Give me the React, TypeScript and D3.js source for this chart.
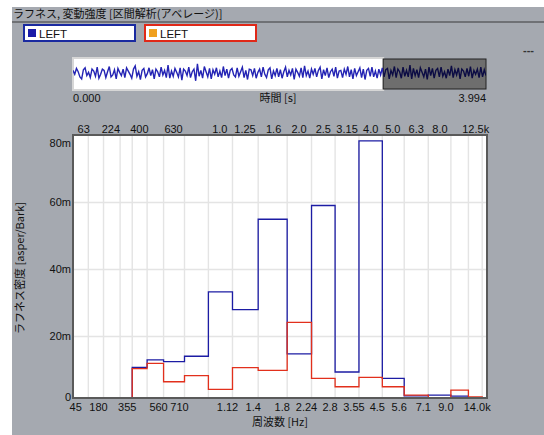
import React, { useEffect, useRef } from 'react'
import * as d3 from 'd3'

// band edges of the analysis (Hz) and the roughness density per band (m asper/Bark)
const bandEdges = [355, 450, 560, 710, 900, 1120, 1400, 1800, 2240, 2800, 3550, 4500, 5600, 7100, 9000, 11200, 14000]
const blueLeft = [10.8, 13.0, 12.5, 14.1, 33.3, 28.0, 55.0, 14.8, 59.1, 9.4, 78.4, 7.5, 2.3, 2.5, 2.2, 1.5]
const redLeft = [10.4, 12.0, 6.5, 8.3, 4.2, 10.7, 9.9, 24.2, 7.5, 5.0, 7.8, 5.0, 2.5, 1.2, 4.0, 2.0]

const gridFreqs = [90, 180, 280, 355, 450, 560, 710, 900, 1120, 1400, 1800, 2240, 2800, 3550, 4500, 5600, 7100, 9000, 11200, 14000]
const bottomFreqs = [45, 180, 355, 560, 710, 1120, 1400, 1800, 2240, 2800, 3550, 4500, 5600, 7100, 9000, 14000]
const bottomLabels = ['45', '180', '355', '560', '710', '1.12', '1.4', '1.8', '2.24', '2.8', '3.55', '4.5', '5.6', '7.1', '9.0', '14.0k']
const topFreqs = [63, 224, 400, 630, 1000, 1250, 1600, 2000, 2500, 3150, 4000, 5000, 6300, 8000, 12500]
const topLabels = ['63', '224', '400', '630', '1.0', '1.25', '1.6', '2.0', '2.5', '3.15', '4.0', '5.0', '6.3', '8.0', '12.5k']
const yTicks = [0, 20, 40, 60, 80]
const yTickLabels = ['0', '20m', '40m', '60m', '80m']

const legendNames = ['LEFT', 'LEFT']
const timeDomain = [0, 3.994]
const selection = [0, 3.0]

// overview waveform (normalised amplitude)
const wave = [
  0.2, -0.1, 0.35, 0.1, -0.3, -0.45, 0.25, 0.4, -0.2, 0.05, -0.35, 0.3, 0.15, -0.25, 0.45, -0.4, -0.1, 0.3, 0.2, -0.35, 0.1, 0.5, -0.3, -0.15, 0.25, -0.45, 0.35, 0.05, -0.2, 0.3,
  -0.35, 0.4, 0.15, -0.1, -0.4, 0.3, 0.55, -0.25, 0.1, -0.5, 0.2, 0.35, -0.3, -0.05, 0.4, -0.2, 0.25, -0.45, 0.3, 0.1, -0.3, 0.45, -0.15, 0.2, -0.35, 0.6, -0.4, 0.15, -0.25, 0.35,
  0.05, -0.3, 0.4, -0.55, 0.3, 0.15, -0.2, 0.45, -0.35, 0.1, 0.3, -0.6, 0.7, -0.25, 0.2, -0.4, 0.5, 0.1, -0.3, 0.35, -0.45, 0.25, -0.1, 0.4, -0.3, 0.15, -0.35, 0.5, -0.2, 0.3,
  -0.4, 0.2, 0.35, -0.15, -0.3, 0.4, -0.25, 0.1, 0.45, -0.35, 0.2, -0.5, 0.3, 0.25, -0.2, 0.35, -0.4, 0.05, 0.3, -0.3, 0.45, -0.1, -0.35, 0.25, 0.4, -0.45, 0.15, -0.2, 0.35, -0.3,
  0.25, -0.4, 0.1, 0.45, -0.3, 0.2, -0.15, 0.35, -0.5, 0.3, 0.05, -0.25, 0.4, -0.35, 0.55, -0.2, 0.15, -0.4, 0.3, -0.1, 0.35, -0.3, 0.2, 0.45, -0.45, 0.25, -0.2, 0.4, -0.35, 0.1,
  0.3, -0.25, 0.45, -0.4, 0.15, 0.2, -0.35, 0.3, -0.1, 0.5, -0.3, 0.25, -0.45, 0.35, -0.2, 0.1, 0.4, -0.35, 0.3, -0.5, 0.2, 0.35, -0.25, 0.45, -0.3, 0.15, -0.4, 0.3, -0.15, 0.4,
  -0.3, 0.25, 0.35, -0.45, 0.2, -0.15, 0.5, -0.35, 0.3, 0.1, -0.4, 0.45, -0.25, 0.2, -0.3, 0.6, -0.45, 0.35, -0.2, 0.25, -0.35, 0.4, 0.05, -0.3, 0.3, -0.5, 0.45, -0.2, 0.35, -0.4,
  0.2, 0.35, -0.3, 0.45, -0.25, 0.1, -0.4, 0.3, -0.2, 0.55, -0.35, 0.25, -0.15, 0.4, -0.45, 0.3, 0.15, -0.3, 0.35, -0.25, 0.5, -0.4, 0.2, -0.1, 0.3, -0.35, 0.45, -0.3, 0.25, -0.2,
]

const BLUE = '#1c1ca4'
const RED = '#e2301c'
const PANEL = '#a5a9b0'
const NUM_FONT = '"Liberation Sans", Arial, sans-serif'
const JP_FONT = '"Noto Sans CJK JP", "Liberation Sans", sans-serif'

// Zwicker critical band rate
const bark = (f: number) => 13 * Math.atan(0.00076 * f) + 3.5 * Math.atan((f / 7500) * (f / 7500))

const App = () => {
  const ref = useRef<SVGSVGElement>(null)

  useEffect(() => {
    const svg = d3.select(ref.current)
    svg.selectAll('*').remove()

    const left = 73, right = 487, top = 135, bottom = 398

    svg.append('rect').attr('width', 544).attr('height', 435).attr('fill', '#fff')
    svg.append('rect').attr('x', 12).attr('y', 7).attr('width', 532).attr('height', 428).attr('fill', PANEL)

    // title bar
    svg.append('text').attr('x', 13).attr('y', 18)
      .attr('font-family', JP_FONT).attr('font-size', 11).attr('fill', '#111')
      .text('ラフネス, 変動強度 [区間解析(アベレージ)]')
    svg.append('line').attr('x1', 12).attr('x2', 544).attr('y1', 22).attr('y2', 22)
      .attr('stroke', '#3a3a3a').attr('stroke-width', 1.2)

    // legend boxes
    const legendColors = [{ border: '#1a2aa0', swatch: '#1a1aa8' }, { border: '#e02818', swatch: '#f0a020' }]
    legendNames.forEach((name, i) => {
      const g = svg.append('g').attr('transform', `translate(${24 + i * 121},25)`)
      g.append('rect').attr('width', 111).attr('height', 16).attr('fill', '#fff')
        .attr('stroke', legendColors[i].border).attr('stroke-width', 2)
      g.append('rect').attr('x', 4).attr('y', 4).attr('width', 8).attr('height', 8).attr('fill', legendColors[i].swatch)
      g.append('text').attr('x', 15).attr('y', 12.5)
        .attr('font-family', NUM_FONT).attr('font-size', 11.5).attr('fill', '#111').text(name)
    })
    svg.append('text').attr('x', 523).attr('y', 54)
      .attr('font-family', NUM_FONT).attr('font-size', 11).attr('font-weight', 'bold').attr('fill', '#333').text('---')

    // time overview strip
    const t = d3.scaleLinear().domain(timeDomain).range([left, 486])
    const wy = d3.scaleLinear().domain([-1, 1]).range([86, 60])
    const defs = svg.append('defs')
    defs.append('clipPath').attr('id', 'sel').append('rect')
      .attr('x', t(selection[0])).attr('y', 58).attr('width', t(selection[1]) - t(selection[0])).attr('height', 32)
    defs.append('clipPath').attr('id', 'rest').append('rect')
      .attr('x', t(selection[1])).attr('y', 58).attr('width', t(timeDomain[1]) - t(selection[1])).attr('height', 32)
    svg.append('rect').attr('x', t(selection[0])).attr('y', 58)
      .attr('width', t(selection[1]) - t(selection[0])).attr('height', 32)
      .attr('fill', '#fff').attr('stroke', '#d6d6d6').attr('stroke-width', 2)
    svg.append('rect').attr('x', t(selection[1])).attr('y', 59)
      .attr('width', t(timeDomain[1]) - t(selection[1])).attr('height', 30)
      .attr('fill', '#6e6e6e').attr('stroke', '#222').attr('stroke-width', 1)
    const waveLine = d3.line<number>()
      .x((d, i) => t((i / (wave.length - 1)) * timeDomain[1]))
      .y(d => wy(d))
    svg.append('path').attr('d', waveLine(wave)).attr('clip-path', 'url(#sel)')
      .attr('fill', 'none').attr('stroke', '#2424b4').attr('stroke-width', 1.4)
    svg.append('path').attr('d', waveLine(wave)).attr('clip-path', 'url(#rest)')
      .attr('fill', 'none').attr('stroke', '#0c0c44').attr('stroke-width', 1.4)
    svg.append('text').attr('x', t(timeDomain[0])).attr('y', 102)
      .attr('font-family', NUM_FONT).attr('font-size', 11).attr('fill', '#111').text(timeDomain[0].toFixed(3))
    svg.append('text').attr('x', t(timeDomain[1])).attr('y', 102).attr('text-anchor', 'end')
      .attr('font-family', NUM_FONT).attr('font-size', 11).attr('fill', '#111').text(timeDomain[1].toFixed(3))
    svg.append('text').attr('x', 278).attr('y', 102).attr('text-anchor', 'middle')
      .attr('font-family', JP_FONT).attr('font-size', 11).attr('fill', '#111').text('時間 [s]')

    // main plot
    const x = d3.scaleLinear().domain([0, 24]).range([left, right])
    const y = d3.scaleLinear().domain([0, 80]).range([403.5, 135.5])
    const fx = (f: number) => x(bark(f))

    defs.append('clipPath').attr('id', 'plot').append('rect')
      .attr('x', left).attr('y', top).attr('width', right - left).attr('height', bottom - top)
    svg.append('rect').attr('x', left).attr('y', top).attr('width', right - left).attr('height', bottom - top)
      .attr('fill', '#fff')

    const grid = svg.append('g').attr('clip-path', 'url(#plot)')
    grid.selectAll('.vg').data(gridFreqs).enter().append('line')
      .attr('x1', d => fx(d)).attr('x2', d => fx(d)).attr('y1', top).attr('y2', bottom)
      .attr('stroke', '#e4e4e4').attr('stroke-width', 1.4)
    grid.selectAll('.hg').data(yTicks.slice(1, -1)).enter().append('line')
      .attr('x1', left).attr('x2', right).attr('y1', d => y(d)).attr('y2', d => y(d))
      .attr('stroke', '#e4e4e4').attr('stroke-width', 1.4)

    const stepLine = d3.line<[number, number]>()
      .x(d => fx(d[0])).y(d => y(d[1])).curve(d3.curveStepAfter)
    const stepPoints = (vals: number[]): [number, number][] => {
      const pts: [number, number][] = [[bandEdges[0], 0]]
      vals.forEach((v, i) => pts.push([bandEdges[i], v]))
      pts.push([bandEdges[bandEdges.length - 1], vals[vals.length - 1]])
      pts.push([bandEdges[bandEdges.length - 1], 0])
      return pts
    }
    const series = svg.append('g').attr('clip-path', 'url(#plot)')
    series.append('path').attr('d', stepLine(stepPoints(blueLeft)))
      .attr('fill', 'none').attr('stroke', BLUE).attr('stroke-width', 1.3)
    series.append('path').attr('d', stepLine(stepPoints(redLeft)))
      .attr('fill', 'none').attr('stroke', RED).attr('stroke-width', 1.3)

    svg.append('rect').attr('x', left).attr('y', top).attr('width', right - left).attr('height', bottom - top)
      .attr('fill', 'none').attr('stroke', '#5a5a5a').attr('stroke-width', 2)

    // y ticks (labels kept inside the frame)
    svg.selectAll('.yt').data(yTicks).enter().append('text')
      .attr('x', 71).attr('y', d => Math.min(Math.max(y(d), top + 8), bottom - 1))
      .attr('dy', '0.35em').attr('text-anchor', 'end')
      .attr('font-family', NUM_FONT).attr('font-size', 11).attr('fill', '#111')
      .text((d, i) => yTickLabels[i])

    // x tick labels
    svg.selectAll('.bt').data(bottomFreqs).enter().append('text')
      .attr('x', d => fx(d) - 5).attr('y', 411).attr('text-anchor', 'middle')
      .attr('font-family', NUM_FONT).attr('font-size', 11).attr('fill', '#111')
      .text((d, i) => bottomLabels[i])
    svg.selectAll('.tt').data(topFreqs).enter().append('text')
      .attr('x', d => fx(d)).attr('y', 133).attr('text-anchor', 'middle')
      .attr('font-family', NUM_FONT).attr('font-size', 11).attr('fill', '#111')
      .text((d, i) => topLabels[i])

    // axis titles
    svg.append('text').attr('x', 280).attr('y', 426).attr('text-anchor', 'middle')
      .attr('font-family', JP_FONT).attr('font-size', 11).attr('fill', '#111').text('周波数 [Hz]')
    svg.append('text').attr('transform', 'translate(24,268) rotate(-90)').attr('text-anchor', 'middle')
      .attr('font-family', JP_FONT).attr('font-size', 11).attr('fill', '#111').text('ラフネス密度 [asper/Bark]')
  }, [])

  return (
    <div style={{ position: 'absolute', left: 0, top: 0 }}>
      <svg ref={ref} width={544} height={435} style={{ display: 'block' }} />
    </div>
  )
}

export default App
